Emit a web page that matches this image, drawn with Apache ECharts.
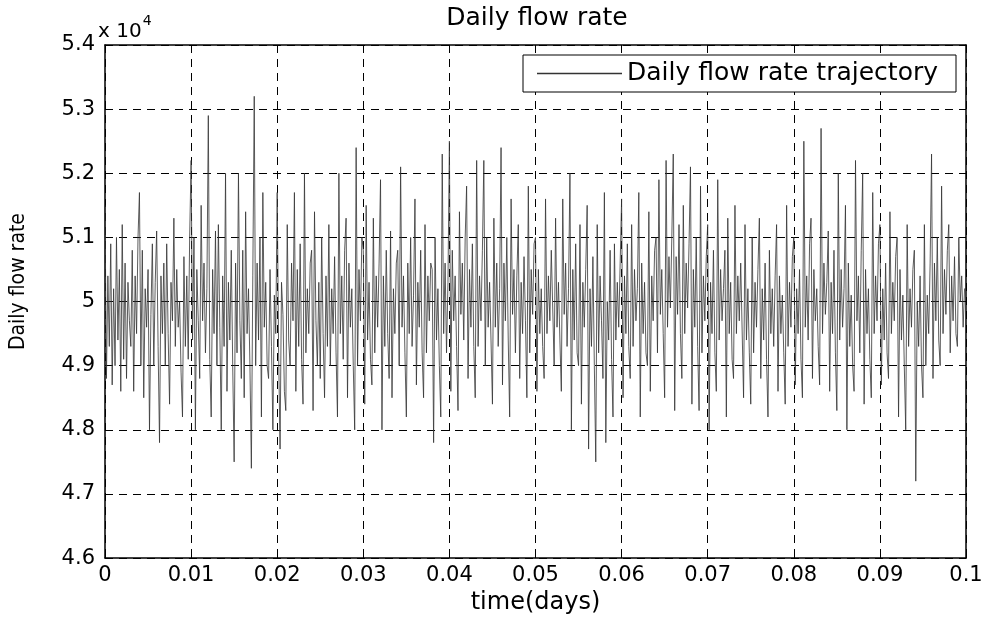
<!DOCTYPE html>
<html>
<head>
<meta charset="utf-8">
<script src="https://cdn.jsdelivr.net/npm/echarts@6/dist/echarts.min.js"></script>
<style>html,body{margin:0;padding:0;background:#fff}#c{width:989px;height:620px}</style>
</head>
<body>
<div id="c"></div>
<script>
const flowRateE4 = [
 5.15,4.88,5.04,4.93,5.09,4.87, 5.02,4.90,5.10,4.94,5.05,4.86, 5.12,4.91,5.06,4.88,5.03,4.97,
 4.93,5.08,4.86,5.04,4.95,5.10, 5.17,4.90,5.08,4.85,5.02,4.96, 5.05,4.80,4.98,5.09,4.90,5.03,
 5.11,4.93,4.78,5.04,4.95,5.06, 4.90,5.09,4.95,4.84,5.03,4.97, 5.13,4.93,5.05,4.96,5.00,4.89,
 4.82,5.07,4.93,5.04,4.91,5.10, 5.22,4.94,5.10,4.80,5.05,4.97, 4.88,5.15,4.97,5.06,4.92,5.02,
 5.29,4.91,4.82,5.05,4.95,5.11, 4.90,5.12,4.96,4.80,5.04,4.93, 5.20,4.86,5.03,4.94,5.08,4.90,
 4.75,5.06,4.92,5.20,4.97,4.88, 5.08,4.85,5.14,4.95,5.02,4.90, 4.74,5.04,5.32,4.90,5.06,4.94,
 5.10,4.82,5.17,4.96,5.03,4.90, 4.88,5.05,4.93,4.80,5.01,4.95, 5.17,4.92,4.77,5.03,4.98,4.86,
 4.83,5.12,4.94,4.90,5.06,4.97, 5.17,4.86,5.05,4.93,5.09,4.91, 4.84,5.20,4.92,5.02,4.95,5.06,
 5.08,4.83,5.14,4.97,4.90,5.03, 4.88,5.10,4.95,4.85,5.04,4.93, 5.12,4.90,5.02,4.95,5.07,4.92,
 4.82,5.20,4.95,5.04,4.91,5.08, 5.13,4.85,5.06,4.96,5.02,4.90, 4.80,5.24,4.90,5.05,4.97,5.10,
 5.08,4.84,5.15,4.94,5.03,4.91, 4.87,5.13,4.92,5.04,4.96,5.06, 5.19,4.80,5.04,4.93,5.08,4.95,
 4.88,5.11,4.85,5.02,4.95,5.06, 5.08,4.90,5.21,4.96,5.04,4.92, 4.82,5.06,4.95,5.10,4.93,5.01,
 5.16,4.87,5.03,4.96,5.08,4.92, 4.85,5.12,4.92,5.04,4.97,5.06, 5.05,4.78,5.10,4.94,5.02,4.90,
 4.82,5.23,4.95,5.06,4.92,5.03, 5.25,4.86,5.08,4.97,5.04,4.93, 4.83,5.14,4.98,5.06,4.94,5.10,
 5.18,4.88,5.05,4.96,5.09,4.93, 4.85,5.22,4.93,5.04,4.97,5.08, 5.22,4.90,5.10,4.96,5.03,4.94,
 4.84,5.13,4.96,5.06,4.93,5.02, 5.24,4.87,5.06,4.97,5.10,4.94, 4.82,5.16,4.98,5.05,4.92,5.04,
 5.12,4.88,5.03,4.95,5.07,4.97, 4.85,5.18,4.92,5.05,4.98,5.09, 5.10,4.86,5.05,4.95,5.02,4.93,
 4.88,5.16,4.95,5.04,4.97,5.08, 5.08,4.90,5.13,4.96,5.03,4.94, 4.86,5.16,4.98,5.06,4.93,5.02,
 5.20,4.80,5.05,4.94,5.09,4.92, 4.90,5.12,4.84,5.03,4.96,5.05, 5.15,4.77,5.02,4.93,5.07,4.90,
 4.75,5.12,4.92,5.04,4.97,4.88, 5.17,4.78,5.00,4.94,5.08,4.91, 4.82,5.09,4.94,5.03,4.96,5.06,
 5.16,4.85,5.04,4.95,5.09,4.93, 4.88,5.12,4.93,5.05,4.97,5.02, 5.17,4.82,5.06,4.95,5.03,4.92,
 4.90,5.14,4.86,5.04,4.97,5.08, 5.10,4.92,5.19,4.98,5.05,4.95, 4.85,5.22,4.96,5.07,4.99,5.10,
 5.23,4.83,5.07,4.98,5.12,4.95, 4.88,5.15,4.95,5.06,4.99,5.09, 5.21,4.84,5.05,4.96,5.10,4.93,
 4.83,5.18,4.92,5.04,4.97,5.07, 5.12,4.80,5.03,4.95,5.08,4.92, 4.86,5.19,4.94,5.05,4.97,5.02,
 5.08,4.82,5.13,4.95,5.03,4.91, 4.88,5.15,4.95,5.04,4.97,5.06, 5.06,4.85,5.12,4.94,5.02,4.92,
 4.84,5.10,4.92,5.03,4.96,5.05, 5.13,4.88,5.02,4.94,5.06,4.91, 4.82,5.08,4.95,5.02,4.93,5.04,
 5.12,4.86,5.04,4.95,5.01,4.92, 4.84,5.15,4.93,5.03,4.96,5.07, 5.10,4.87,5.02,4.95,5.05,4.91,
 4.85,5.25,4.96,5.04,4.94,5.09, 5.13,4.88,5.05,4.97,5.02,4.93, 4.87,5.27,4.95,5.06,4.98,5.03,
 5.11,4.86,5.03,4.95,5.08,4.92, 4.83,5.20,4.94,5.05,4.96,5.02, 5.15,4.80,5.06,4.93,5.01,4.90,
 4.86,5.22,4.97,5.04,4.92,5.08, 5.20,4.84,5.05,4.95,5.02,4.91, 4.85,5.17,4.95,5.04,4.97,5.09,
 5.12,4.87,5.02,4.94,5.06,4.92, 4.88,5.14,4.95,5.03,4.97,5.07, 5.10,4.82,5.05,4.94,5.01,4.90,
 4.80,5.12,4.93,5.02,4.96,5.05, 5.08,4.72,5.00,4.93,5.04,4.90, 4.85,5.12,4.90,5.01,4.95,5.06,
 5.23,4.88,5.06,4.97,5.10,4.94, 4.90,5.18,4.95,5.05,4.98,5.08, 5.12,4.92,5.04,4.97,5.07,4.95,
 4.93,5.10,5.00,5.04,4.96,5.02,
 5.02
];
const timeStartDays = 0;
const timeEndDays = 0.1;
const seriesName = 'Daily flow rate trajectory';
const titleText = 'Daily flow rate';
const xName = 'time(days)';
const yName = 'Daily flow rate';

const n = flowRateE4.length;
const seriesData = flowRateE4.map((v, i) => [timeStartDays + (timeEndDays - timeStartDays) * i / (n - 1), v]);

const FONT = '"DejaVu Sans", "Liberation Sans", sans-serif';
const chart = echarts.init(document.getElementById('c'), null, {renderer: 'canvas'});
const boxAxisCommon = {
  axisLine: {show: true, onZero: false, lineStyle: {color: '#000', width: 1.5}},
  axisTick: {show: true, inside: true, length: 6, lineStyle: {color: '#000'}},
  axisLabel: {show: false},
  splitLine: {show: false}
};
chart.setOption({
  backgroundColor: '#fff',
  animation: false,
  title: {
    text: titleText, left: 532, top: 1, textAlign: 'center',
    textStyle: {fontFamily: FONT, fontSize: 25, fontWeight: 'normal', color: '#000'}
  },
  legend: {
    data: [{name: seriesName, icon: 'rect'}],
    left: 523, top: 55,
    padding: [6, 18, 6, 14],
    itemWidth: 85, itemHeight: 1.5, itemGap: 4,
    backgroundColor: '#fff', borderColor: '#000', borderWidth: 1,
    itemStyle: {color: '#333'},
    textStyle: {fontFamily: FONT, fontSize: 25, color: '#000', padding: [0, 0, 0, 0]}
  },
  grid: {left: 98, right: 23, top: 45, bottom: 58},
  xAxis: [{
    type: 'value', min: 0, max: 0.1, interval: 0.01,
    name: xName, nameLocation: 'middle', nameGap: 32,
    nameTextStyle: {fontFamily: FONT, fontSize: 24, color: '#000'},
    axisLine: {show: true, onZero: false, lineStyle: {color: '#000', width: 1.5}},
    axisTick: {show: true, inside: true, length: 6, lineStyle: {color: '#000'}},
    axisLabel: {
      fontFamily: FONT, fontSize: 21, color: '#000', margin: 7,
      formatter: v => String(Math.round(v * 100) / 100)
    },
    splitLine: {show: true, lineStyle: {color: '#000', type: [8, 6], width: 1}}
  }, Object.assign({type: 'value', position: 'top', min: 0, max: 0.1, interval: 0.01}, boxAxisCommon)],
  yAxis: [{
    type: 'value', min: 4.6, max: 5.4, interval: 0.1,
    name: yName, nameLocation: 'middle', nameGap: 76, nameRotate: 90,
    nameTextStyle: {fontFamily: '"Liberation Sans Narrow", "DejaVu Sans Condensed", "Liberation Sans", sans-serif', fontSize: 21, color: '#000', padding: [0, 0, 0, 40]},
    axisLine: {show: true, onZero: false, lineStyle: {color: '#000', width: 1.5}},
    axisTick: {show: true, inside: true, length: 6, lineStyle: {color: '#000'}},
    axisLabel: {
      fontFamily: FONT, fontSize: 21, color: '#000', margin: 10,
      formatter: v => String(Math.round(v * 10) / 10)
    },
    splitLine: {show: true, lineStyle: {color: '#000', type: [8, 6], width: 1}}
  }, Object.assign({type: 'value', position: 'right', min: 4.6, max: 5.4, interval: 0.1}, boxAxisCommon)],
  graphic: [{
    type: 'text', left: 98, top: 14,
    style: {
      text: '{b|x 10}{s|4}',
      rich: {
        b: {fontFamily: FONT, fontSize: 20, color: '#000', padding: [8, 0, 0, 0]},
        s: {fontFamily: FONT, fontSize: 14, color: '#000', verticalAlign: 'top', padding: [0, 0, 10, 1]}
      }
    }
  }],
  series: [{
    name: seriesName, type: 'line', xAxisIndex: 0, yAxisIndex: 0,
    data: seriesData, showSymbol: false, symbol: 'none',
    lineStyle: {color: '#333', width: 0.8},
    itemStyle: {color: '#333'},
    z: 1
  }]
});
</script>
</body>
</html>
